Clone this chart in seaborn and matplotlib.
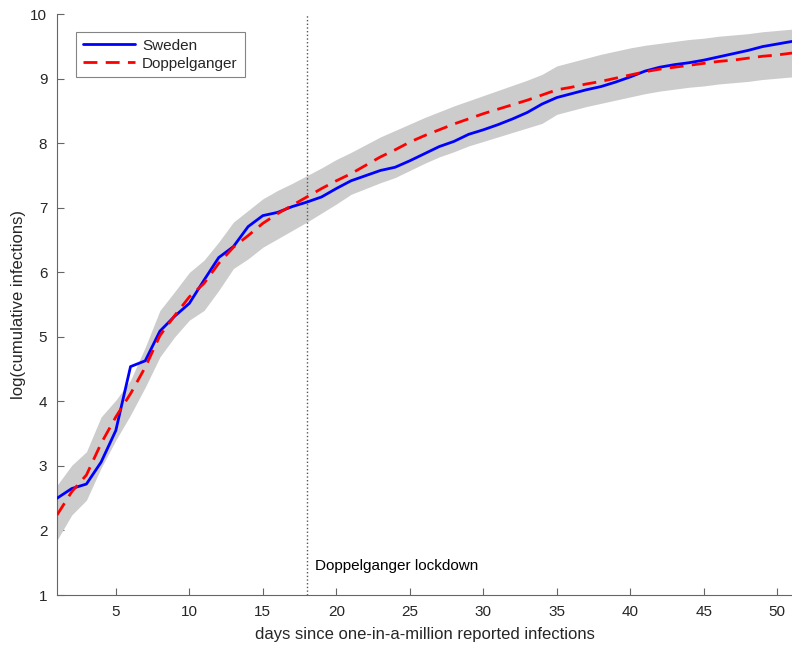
import numpy as np
import pandas as pd
import matplotlib
matplotlib.use("Agg")
import matplotlib.pyplot as plt
import seaborn as sns

# days since one-in-a-million reported infections
days = list(range(1, 52))

sweden = [2.50, 2.65, 2.72, 3.06, 3.55, 4.54, 4.63, 5.09, 5.32, 5.52,
          5.88, 6.23, 6.40, 6.71, 6.88, 6.93, 7.02, 7.09, 7.17, 7.30,
          7.42, 7.50, 7.58, 7.63, 7.73, 7.84, 7.95, 8.03, 8.14, 8.21,
          8.29, 8.38, 8.48, 8.61, 8.71, 8.77, 8.83, 8.88, 8.95, 9.03,
          9.12, 9.18, 9.22, 9.25, 9.29, 9.34, 9.39, 9.44, 9.50, 9.54,
          9.58]

doppelganger = [2.24, 2.60, 2.86, 3.35, 3.76, 4.12, 4.53, 5.02, 5.33, 5.62,
                5.83, 6.14, 6.39, 6.57, 6.76, 6.91, 7.04, 7.17, 7.30, 7.42,
                7.53, 7.66, 7.79, 7.90, 8.02, 8.12, 8.21, 8.30, 8.38, 8.46,
                8.53, 8.60, 8.67, 8.75, 8.83, 8.87, 8.92, 8.96, 9.01, 9.06,
                9.11, 9.15, 9.18, 9.21, 9.24, 9.27, 9.29, 9.32, 9.35, 9.37,
                9.40]

band_upper = [2.70, 3.01, 3.22, 3.76, 4.02, 4.33, 4.84, 5.41, 5.70, 6.00,
              6.19, 6.47, 6.78, 6.96, 7.14, 7.27, 7.38, 7.50, 7.62, 7.75,
              7.86, 7.98, 8.10, 8.20, 8.30, 8.40, 8.49, 8.58, 8.66, 8.74,
              8.82, 8.90, 8.98, 9.07, 9.20, 9.26, 9.32, 9.38, 9.43, 9.48,
              9.52, 9.55, 9.58, 9.61, 9.63, 9.66, 9.68, 9.70, 9.73, 9.75,
              9.77]

band_lower = [1.85, 2.24, 2.47, 2.97, 3.40, 3.79, 4.22, 4.69, 5.00, 5.26,
              5.41, 5.72, 6.06, 6.21, 6.39, 6.52, 6.65, 6.78, 6.92, 7.06,
              7.21, 7.30, 7.39, 7.47, 7.58, 7.69, 7.79, 7.87, 7.96, 8.03,
              8.10, 8.17, 8.24, 8.31, 8.45, 8.51, 8.57, 8.62, 8.67, 8.72,
              8.77, 8.81, 8.84, 8.87, 8.89, 8.92, 8.94, 8.96, 8.99, 9.01,
              9.03]

lockdown_day = 18

sns.set_theme(style="ticks")
plt.rcParams['font.family'] = ['Liberation Sans', 'DejaVu Sans']

df = pd.DataFrame({
    'day': days * 2,
    'value': sweden + doppelganger,
    'series': ['Sweden'] * len(days) + ['Doppelganger'] * len(days),
})

fig = plt.figure(figsize=(7.92, 6.51), dpi=100)
ax = fig.add_axes([0.072, 0.086, 0.928, 0.892])

ax.fill_between(days, band_lower, band_upper, color='#cccccc', linewidth=0, zorder=1)

sns.lineplot(data=df, x='day', y='value', hue='series', style='series',
             palette={'Sweden': '#0000ff', 'Doppelganger': '#ff0000'},
             dashes={'Sweden': '', 'Doppelganger': (5, 3)},
             linewidth=2, ax=ax, zorder=3)

ax.axvline(lockdown_day, color='#555555', linestyle=':', linewidth=1, zorder=2)
ax.text(lockdown_day + 0.55, 1.45, 'Doppelganger lockdown', fontsize=11,
        va='center', ha='left', color='black')

ax.set_xlim(1, 51)
ax.set_ylim(1, 10)
ax.set_xticks(range(5, 51, 5))
ax.set_yticks(range(1, 11))
ax.tick_params(direction='in', length=5, width=0.8, labelsize=11, pad=7,
               color='#666666', labelcolor='#262626')
ax.set_xlabel('days since one-in-a-million reported infections', fontsize=12,
              color='#262626', labelpad=6)
ax.set_ylabel('log(cumulative infections)', fontsize=12, color='#262626', labelpad=3)
sns.despine(ax=ax)
for s in ['left', 'bottom']:
    ax.spines[s].set_color('#666666')
    ax.spines[s].set_linewidth(0.8)

handles, labels = ax.get_legend_handles_labels()
leg = ax.legend(handles, labels, loc='upper left', bbox_to_anchor=(0.015, 0.983),
                fontsize=11, frameon=True, fancybox=False, handlelength=3.4,
                handletextpad=0.5, borderpad=0.45, labelspacing=0.25)
leg.get_frame().set_edgecolor('#666666')
leg.get_frame().set_linewidth(0.8)

fig.savefig('out.png', dpi=100)
